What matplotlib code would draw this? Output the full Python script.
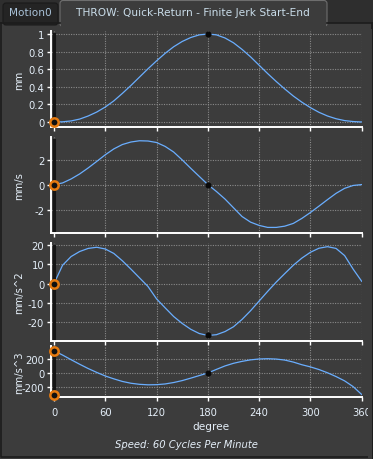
import matplotlib
matplotlib.use("Agg")
import matplotlib.pyplot as plt
from matplotlib.patches import Rectangle, FancyBboxPatch

plt.rcParams['axes.unicode_minus'] = False
plt.rcParams['font.family'] = 'DejaVu Sans'

# --- data (every 10 degrees) ---
degrees = list(range(0, 361, 10))

position = [0.0, 0.002, 0.012, 0.033, 0.068, 0.113, 0.17, 0.24, 0.325, 0.415,
            0.51, 0.605, 0.695, 0.78, 0.855, 0.915, 0.96, 0.99, 1.0, 0.99,
            0.955, 0.90, 0.825, 0.74, 0.645, 0.55, 0.46, 0.375, 0.295, 0.225,
            0.163, 0.11, 0.068, 0.037, 0.016, 0.005, 0.0]

velocity = [0.0, 0.13, 0.45, 0.85, 1.33, 1.85, 2.38, 2.85, 3.2, 3.4,
            3.5, 3.48, 3.36, 3.05, 2.6, 1.97, 1.3, 0.65, 0.0, -0.55,
            -1.15, -1.85, -2.55, -3.0, -3.26, -3.42, -3.42, -3.32, -3.1, -2.7,
            -2.23, -1.72, -1.2, -0.7, -0.3, -0.07, 0.0]

acceleration = [0.0, 9.5, 14.0, 16.6, 18.2, 18.8, 17.9, 15.6, 11.8, 7.5,
                3.0, -1.5, -7.9, -12.5, -17.0, -20.6, -23.6, -25.8, -26.8, -26.4,
                -24.8, -22.3, -18.5, -14.0, -9.0, -4.0, 0.8, 5.2, 9.5, 13.2,
                16.2, 18.3, 19.1, 18.2, 14.5, 7.5, 1.2]

jerk = [310, 250, 185, 122, 62, 8, -42, -82, -118, -143,
        -158, -165, -163, -153, -133, -106, -72, -36, 0, 50,
        98, 135, 162, 183, 195, 199, 194, 180, 152, 115,
        85, 48, 3, -50, -110, -190, -300]

jerk_start_markers = [310, -300]

x_ticks = [0, 60, 120, 180, 240, 300, 360]
units = ["mm", "mm/s", "mm/s^2", "mm/s^3"]
y_ticks = [[0, 0.2, 0.4, 0.6, 0.8, 1],
           [-2, 0, 2],
           [-20, -10, 0, 10, 20],
           [-200, 0, 200]]
y_limits = [(-0.057, 1.034), (-3.89, 3.8), (-29.4, 21.0), (-339, 372)]

tab_title = "THROW: Quick-Return - Finite Jerk Start-End"
speed_note = "Speed: 60 Cycles Per Minute"

# --- figure / layout in pixels ---
W, H = 373, 460
BG = '#3c3c3c'
TXT = '#e4eef8'
CURVE = '#6aaeff'

fig = plt.figure(figsize=(W / 100, H / 100), dpi=100, facecolor=BG)

# window chrome: tab strip and pane border
bg = fig.add_axes([0, 0, 1, 1])
bg.set_xlim(0, W)
bg.set_ylim(H, 0)
bg.axis('off')
bg.add_patch(Rectangle((0, 0), W, 24, color='#2e2e2e', lw=0))
bg.add_patch(FancyBboxPatch((3, 4), 55, 22, boxstyle="round,pad=0,rounding_size=3",
                            fc='#242424', ec='#1a1a1a', lw=0.8))
bg.plot([327, 372, 372, 1, 1], [23.5, 23.5, 458, 458, 23.5], color='#1c1c1c', lw=1.2)
bg.plot([1, 60], [23.5, 23.5], color='#1c1c1c', lw=1.2)
bg.add_patch(FancyBboxPatch((60, 1.5), 267, 26, boxstyle="round,pad=0,rounding_size=3",
                            fc=BG, ec='#6e6e6e', lw=0.8))
bg.add_patch(Rectangle((60.6, 23), 265.8, 6, color=BG, lw=0))
bg.text(30.5, 13, "Motion0", color='#a9c2d8', fontsize=7.6, ha='center', va='center')
bg.text(193, 13, tab_title, color='#c9dce9', fontsize=7.7, ha='center', va='center')

LEFT, RIGHT = 50.5, 361.7
panels_px = [(32, 128), (138, 234.3), (244, 341.5), (347.3, 398.3)]
series = [position, velocity, acceleration, jerk]

axes = []
for i, (top, bot) in enumerate(panels_px):
    ax = fig.add_axes([LEFT / W, 1 - bot / H, (RIGHT - LEFT) / W, (bot - top) / H])
    ax.set_facecolor(BG)
    ax.set_xlim(-4.1, 360)
    ax.set_ylim(*y_limits[i])
    ax.set_xticks(x_ticks)
    ax.set_yticks(y_ticks[i])
    ax.set_yticklabels([f"{t:g}" for t in y_ticks[i]])
    ax.grid(True, color='#8a8a8a', ls=(0, (1, 1.2)), lw=0.8)
    for s in ('top', 'right'):
        ax.spines[s].set_visible(False)
    for s in ('left', 'bottom'):
        ax.spines[s].set_color('white')
        ax.spines[s].set_linewidth(1.4)
    ax.tick_params(colors='white', labelcolor=TXT, labelsize=7.2,
                   length=3, width=1, pad=1.5)
    ax.tick_params(axis='x', length=3, pad=4)
    if i < 3:
        ax.tick_params(axis='x', labelbottom=False)
    ax.set_ylabel(units[i], color=TXT, fontsize=7.2)
    ax.yaxis.set_label_coords((24 - LEFT) / (RIGHT - LEFT), 0.5)

    # cursor bar at 0 degrees
    ax.axvline(0, ymin=0.03, ymax=0.97, color='#151515', lw=2.2, zorder=5)
    ax.plot(degrees, series[i], color=CURVE, lw=0.9, zorder=4)

    # markers: current point at 0 and the mid point at 180
    starts = jerk_start_markers if i == 3 else [series[i][0]]
    for v in starts:
        ax.plot(0, v, 'o', ms=6.0, mfc='#111111', mec='#e57a10', mew=1.8,
                zorder=6, clip_on=False)
    ax.plot(180, series[i][18], 'o', ms=3.4, mfc='#0a0a0a', mec='#0a0a0a',
            zorder=6, clip_on=False)
    axes.append(ax)

fig.text(211 / W, 1 - 427 / H, "degree", color=TXT, fontsize=7.6,
         ha='center', va='center')
fig.text(186 / W, 1 - 445 / H, speed_note, color=TXT, fontsize=7.2,
         style='italic', ha='center', va='center')

# pane edge clips the last tick label like in the original window
fig.add_artist(Rectangle((367.5 / W, 0), 5.5 / W, 1 - 30 / H, transform=fig.transFigure,
                         color=BG, lw=0, zorder=10))
fig.add_artist(Rectangle((372 / W, 0), 1 / W, 1 - 23 / H, transform=fig.transFigure,
                         color='#1c1c1c', lw=0, zorder=11))

fig.savefig("out.png", dpi=100, facecolor=BG)
